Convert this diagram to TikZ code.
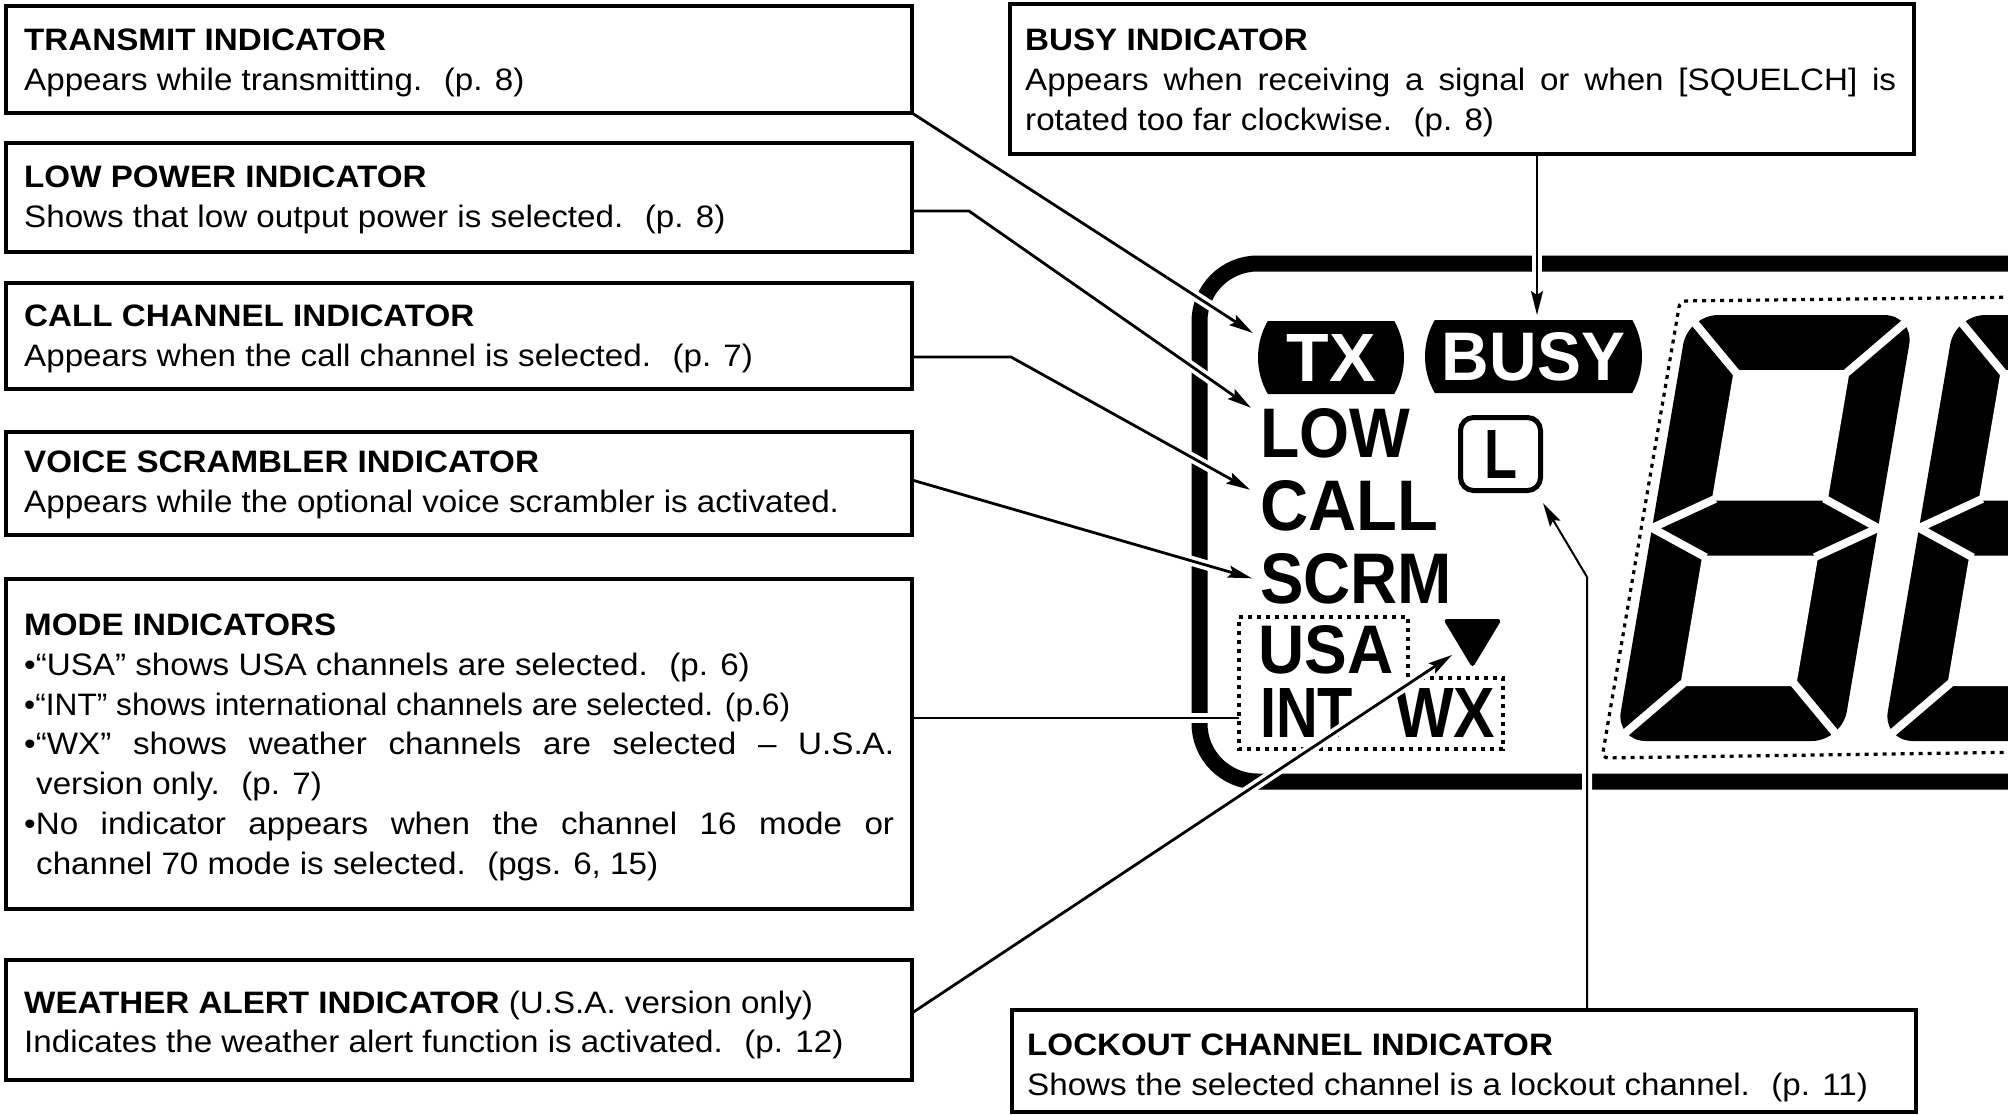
\documentclass[tikz,border=0pt]{standalone}
\usepackage{fontspec}
\setmainfont{Liberation Sans}[FakeStretch=1.07]
\usepackage{graphicx}
\usetikzlibrary{arrows.meta,shapes.misc}

\newcommand{\lcdtext}[3]{\resizebox{#1pt}{#2pt}{\bfseries #3}}

\tikzset{
  infobox/.style={draw, line width=3.5pt, anchor=north west, inner sep=0pt, outer sep=0pt},
  boxtext/.style={anchor=north west, inner sep=0pt, align=left, font=\fontsize{31}{39.7}\selectfont},
  plainlink/.style={line width=2.8pt,
    preaction={draw, white, line width=10pt, arrows=-, shorten >=30pt, shorten <=8pt}},
  link/.style={plainlink, -{Stealth[length=24pt,width=12pt,inset=4pt]}},
  thinlink/.style={link, line width=2pt},
  lcdframe/.style={line width=16pt, rounded corners=58pt},
  dotframe/.style={line width=3.2pt, dash pattern=on 4pt off 5pt},
  pill/.style={rounded rectangle, rounded rectangle arc length=60, fill=black, text=white, inner sep=0pt},
  lcdlabel/.style={anchor=base west, inner sep=0pt}
}

\begin{document}
\begin{tikzpicture}[x=1pt, y=-1pt]
\useasboundingbox (0,0) rectangle (2008,1114);
\clip (0,0) rectangle (2008,1114);

% display frame
\draw[lcdframe] (2030,263.5) -- (1199.5,263.5) -- (1199.5,781.5) -- (2030,781.5);

% channel digits
\draw[dotframe, rounded corners=6pt] (2030,297) -- (1680,301) -- (1602,758) -- (2030,752);
\foreach \cx in {1765,2032}{
  \begin{scope}[shift={(\cx,528)}, xslant=0.17]
    \fill[rounded corners=30pt] (-113,-213) rectangle (113,213);
    \fill[white] (-58,-158) rectangle (58,-27.5) (-58,27.5) rectangle (58,158);
    \draw[white, line width=8pt, line cap=rect] (-113,-213) -- (-58,-158) (113,-213) -- (58,-158)
      (-113,213) -- (-58,158) (113,213) -- (58,158)
      (-58,-27.5) -- (-113,0) -- (-58,27.5) (58,-27.5) -- (113,0) -- (58,27.5);
  \end{scope}
}

% indicators
\node[pill, minimum width=142pt, minimum height=73pt] (tx) at (1331,357.5) {\lcdtext{89}{47}{TX}};
\node[pill, minimum width=217pt, minimum height=73pt] (busy) at (1533.5,356.5) {\lcdtext{183}{48}{BUSY}};
\node[draw, line width=5pt, rounded corners=13pt, minimum width=80pt, minimum height=73pt, inner sep=0pt] (lockmark) at (1500.5,454) {\lcdtext{33}{48}{L}};
\node[lcdlabel] (low) at (1260,457) {\lcdtext{150}{49}{LOW}};
\node[lcdlabel] (call) at (1260,530) {\lcdtext{178}{50}{CALL}};
\node[lcdlabel] (scrm) at (1260,603) {\lcdtext{192}{50}{SCRM}};
\node[lcdlabel] (usa) at (1258,673) {\lcdtext{135}{48}{USA}};
\node[lcdlabel] (int) at (1260,737) {\lcdtext{93}{49}{INT}};
\node[lcdlabel] (wx) at (1395,737) {\lcdtext{100}{49}{WX}};
\draw[dotframe] (1239,617) -- (1408,617) -- (1408,678) -- (1503,678) -- (1503,749) -- (1239,749) -- cycle;
\fill[rounded corners=4pt] (1443,619) -- (1502,619) -- (1472.5,668) -- cycle;
\coordinate (alert) at (1452,655);

% info boxes
\node[infobox, minimum width=906pt, minimum height=107pt] (txbox) at (6,6) {};
\node[boxtext] (txtext) at (24,29) {\textbf{TRANSMIT INDICATOR}\\Appears while transmitting.~ (p. 8)};
\node[infobox, minimum width=906pt, minimum height=109pt] (lowbox) at (6,143) {};
\node[boxtext] (lowtext) at (24,165.5) {\textbf{LOW POWER INDICATOR}\\Shows that low output power is selected.~ (p. 8)};
\node[infobox, minimum width=906pt, minimum height=106pt] (callbox) at (6,283) {};
\node[boxtext] (calltext) at (24,304.5) {\textbf{CALL CHANNEL INDICATOR}\\Appears when the call channel is selected.~ (p. 7)};
\node[infobox, minimum width=906pt, minimum height=103pt] (scrmbox) at (6,432) {};
\node[boxtext] (scrmtext) at (24,450.5) {\textbf{VOICE SCRAMBLER INDICATOR}\\Appears while the optional voice scrambler is activated.};
\node[infobox, minimum width=906pt, minimum height=330pt] (modebox) at (6,579) {};
\node[boxtext] (modetext) at (24,614) {\textbf{MODE INDICATORS}\\
  •“USA” shows USA channels are selected.~ (p. 6)\\
  \resizebox{766pt}{\height}{•“INT” shows international channels are selected. (p.6)}\\
  \makebox[870pt][s]{•“WX” shows weather channels are selected – U.S.A.}\\
  \hspace*{12pt}version only.~ (p. 7)\\
  \makebox[870pt][s]{•No indicator appears when the channel 16 mode or}\\
  \hspace*{12pt}channel 70 mode is selected.~ (pgs. 6, 15)};
\node[infobox, minimum width=906pt, minimum height=120pt] (wxbox) at (6,960) {};
\node[boxtext] (wxtext) at (24,990.5) {\textbf{WEATHER ALERT INDICATOR} (U.S.A. version only)\\Indicates the weather alert function is activated.~ (p. 12)};
\node[infobox, minimum width=904pt, minimum height=150pt] (busybox) at (1010,4) {};
\node[boxtext] (busytext) at (1025,29) {\textbf{BUSY INDICATOR}\\
  \makebox[871pt][s]{Appears when receiving a signal or when [SQUELCH] is}\\
  rotated too far clockwise.~ (p. 8)};
\node[infobox, minimum width=904pt, minimum height=102pt] (lockbox) at (1012,1010) {};
\node[boxtext] (locktext) at (1027,1034) {\textbf{LOCKOUT CHANNEL INDICATOR}\\Shows the selected channel is a lockout channel.~ (p. 11)};

% connectors
\draw[link] (txbox.south east) -- ([shift={(-5,-24.5)}]tx.west);
\draw[link] ([yshift=-13.5pt]lowbox.east) -- ++(57,0) -- ([xshift=-9pt]low.north west);
\draw[link] ([yshift=-21pt]callbox.east) -- ++(99,0) -- ([shift={(-10,10)}]call.north west);
\draw[link] ([yshift=3.5pt]scrmbox.east) -- ([xshift=-8pt]scrm.west);
\draw[plainlink] ([yshift=26pt]modebox.east) -- ++(327,0);
\draw[link] ([yshift=7pt]wxbox.east) -- (alert);
\draw[thinlink] ([xshift=75pt]busybox.south) -- ++(0,161);
\draw[thinlink] ([xshift=123pt]lockbox.north) -- ++(0,-433) -- ([yshift=-10pt]lockmark.south east);
\end{tikzpicture}
\end{document}
